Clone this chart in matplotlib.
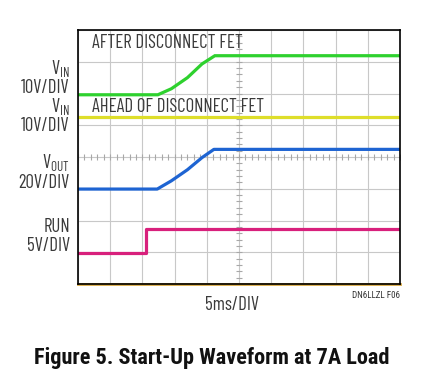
import matplotlib
matplotlib.use("Agg")
import matplotlib.pyplot as plt
import numpy as np

LABEL_FONT = ['Barlow Condensed', 'Roboto Condensed', 'DejaVu Sans']
plt.rcParams['font.family'] = ['Roboto Condensed', 'DejaVu Sans']
plt.rcParams['mathtext.fontset'] = 'custom'
plt.rcParams['mathtext.rm'] = 'Barlow Condensed'

# Trace data in divisions (x: 0..10 time div, y: 0..8 vertical div)
green_x = [0, 2.48, 2.9, 3.4, 3.85, 4.25, 10]
green_y = [5.96, 5.96, 6.15, 6.5, 6.93, 7.19, 7.19]
yellow_x = [0, 10]
yellow_y = [5.25, 5.25]
blue_x = [0, 2.46, 2.9, 3.4, 3.85, 4.22, 10]
blue_y = [2.99, 2.99, 3.25, 3.6, 3.98, 4.24, 4.24]
run_x = [0, 2.10, 2.10, 10]
run_y = [0.97, 0.97, 1.72, 1.72]
base_x = [0, 10]
base_y = [0.0, 0.0]

labels_left = [("V$_{\\mathregular{IN}}$", 69), ("10V/DIV", 88),
               ("V$_{\\mathregular{IN}}$", 107), ("10V/DIV", 126),
               ("V$_{\\mathregular{OUT}}$", 163), ("20V/DIV", 183),
               ("RUN", 227), ("5V/DIV", 246)]

W, H = 421, 384
fig = plt.figure(figsize=(W/100, H/100), dpi=100)
ax = fig.add_axes([78/W, 1-284/H, 322/W, 254/H])
ax.set_xlim(0, 10)
ax.set_ylim(0, 8)
ax.set_xticks(np.arange(0, 11, 1))
ax.set_yticks(np.arange(0, 9, 1))
ax.tick_params(length=0, labelbottom=False, labelleft=False)
ax.grid(True, color='#c8c8c8', lw=0.8)
ax.set_axisbelow(True)
for s in ax.spines.values():
    s.set_color('black')
    s.set_linewidth(1.2)

# center minor ticks
mt = np.arange(0, 10.01, 0.2)
ax.plot(mt, np.full_like(mt, 4), ls='none', marker='|', ms=4, color='#a8a8a8', mew=0.8)
mty = np.arange(0, 8.01, 0.2)
ax.plot(np.full_like(mty, 5), mty, ls='none', marker='_', ms=4, color='#a8a8a8', mew=0.8)

lw = 2.3
ax.plot(green_x, green_y, color='#2ed12e', lw=lw, solid_joinstyle='miter')
ax.plot(yellow_x, yellow_y, color='#dede2a', lw=lw)
ax.plot(blue_x, blue_y, color='#1e64d2', lw=lw)
ax.plot(run_x, run_y, color='#d8207c', lw=lw)
ax.plot(base_x, base_y, color='#d9a840', lw=2.0, clip_on=False)

fs = 13.5
kw = dict(family=LABEL_FONT, fontsize=fs, color='#3a3a3a')
fig.text(92/W, 1-43/H, "AFTER DISCONNECT FET", va='center', ha='left', **kw)
fig.text(92/W, 1-107/H, "AHEAD OF DISCONNECT FET", va='center', ha='left', **kw)

for txt, y in labels_left:
    fig.text(70/W, 1-y/H, txt, ha='right', va='center', **kw)

fig.text(232/W, 1-305/H, "5ms/DIV", ha='center', va='center', **kw)
fig.text(400/W, 1-295/H, "DN6LLZL F06", fontsize=6.5, ha='right', va='center', color='#333333')
fig.text(212/W, 1-358/H, "Figure 5. Start-Up Waveform at 7A Load", fontsize=16,
         fontweight='bold', ha='center', va='center', color='#111111')

fig.savefig("out.png", dpi=100)
